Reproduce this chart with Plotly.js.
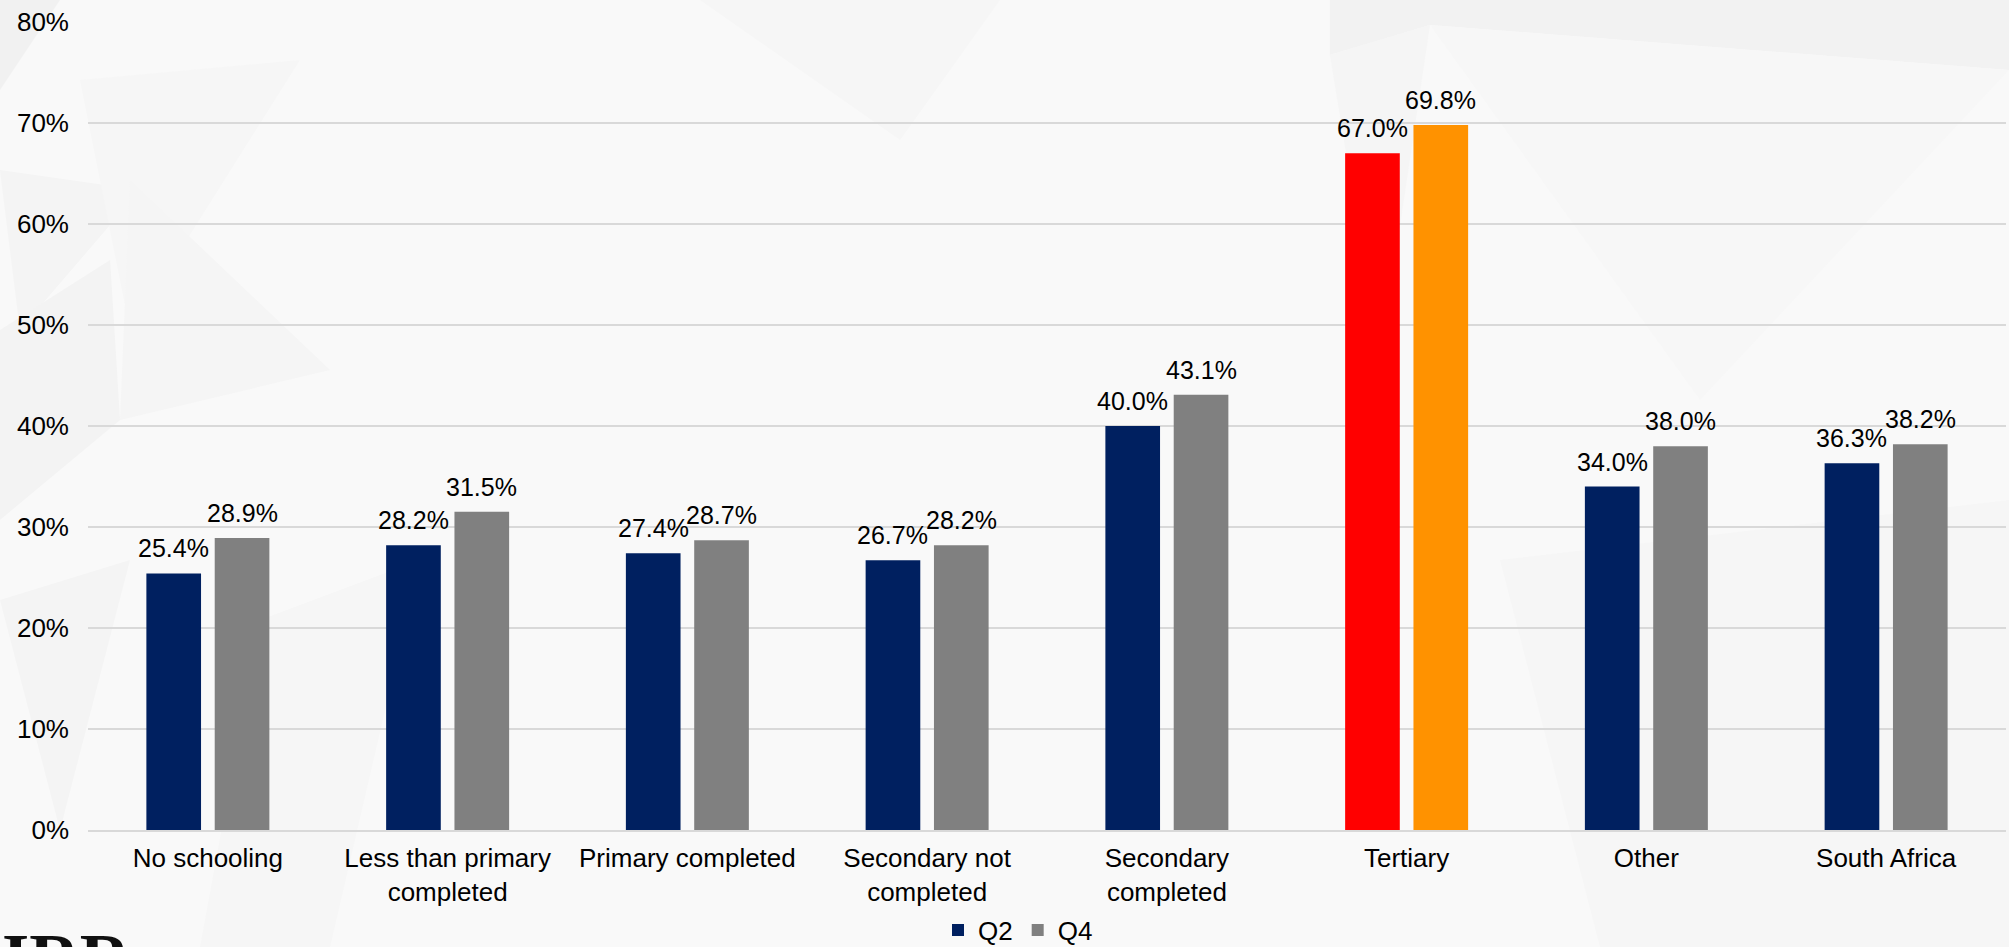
<!DOCTYPE html>
<html>
<head>
<meta charset="utf-8">
<script src="https://cdn.plot.ly/plotly-3.0.1.min.js"></script>
<style>
  html, body { margin: 0; padding: 0; background: #f9f9f9; }
  #chart { width: 2009px; height: 947px; }
</style>
</head>
<body>
<div id="chart"></div>
<script>
// Education level categories (x axis)
const categories = [
  'No schooling',
  'Less than primary<br>completed',
  'Primary completed',
  'Secondary not<br>completed',
  'Secondary<br>completed',
  'Tertiary',
  'Other',
  'South Africa'
];

// Share (%) per category, by quarter
const q2Values = [25.4, 28.2, 27.4, 26.7, 40.0, 67.0, 34.0, 36.3];
const q4Values = [28.9, 31.5, 28.7, 28.2, 43.1, 69.8, 38.0, 38.2];

const seriesNames = ['Q2', 'Q4'];
const yTicks = [0, 10, 20, 30, 40, 50, 60, 70, 80];

// Colours: Tertiary is highlighted
const q2Colors = categories.map(c => c === 'Tertiary' ? '#ff0000' : '#002060');
const q4Colors = categories.map(c => c === 'Tertiary' ? '#ff9200' : '#808080');

const W = 2009, H = 947;
const M = { l: 88, r: 3, t: 22, b: 117 };
const plotW = W - M.l - M.r, plotH = H - M.t - M.b;
const BARGAP = 0.43;
const offset = (1 - BARGAP) / 4;   // bar centre offset from category centre, in category units

const FONT = '"Liberation Sans", Arial, Helvetica, sans-serif';

const traces = [
  {
    type: 'bar', name: seriesNames[0], x: categories, y: q2Values,
    marker: { color: q2Colors }, hoverinfo: 'skip'
  },
  {
    type: 'bar', name: seriesNames[1], x: categories, y: q4Values,
    marker: { color: q4Colors }, hoverinfo: 'skip'
  }
];

// Value labels above each bar
const labels = [];
[q2Values, q4Values].forEach((vals, s) => {
  vals.forEach((v, i) => {
    labels.push({
      x: i + (s === 0 ? -offset : offset), y: v, xref: 'x', yref: 'y',
      text: v.toFixed(1) + '%', showarrow: false,
      xanchor: 'center', yanchor: 'bottom', yshift: 9,
      font: { family: FONT, size: 25, color: '#000000' }
    });
  });
});

// Logo lettering at the bottom-left corner
labels.push({
  x: -M.l / plotW, y: (830 - 918) / plotH, xref: 'paper', yref: 'paper',
  xanchor: 'left', yanchor: 'top', showarrow: false, text: '<b>IRR</b>',
  font: { family: '"Liberation Serif", "DejaVu Serif", serif', size: 70, color: '#111111' }
});

// Faint low-poly facets of the background
const px = (x, y) => [(x - M.l) / plotW, (M.t + plotH - y) / plotH];
function facet(pts, color) {
  const d = pts.map((p, k) => {
    const q = px(p[0], p[1]);
    return (k ? 'L' : 'M') + q[0].toFixed(4) + ',' + q[1].toFixed(4);
  }).join(' ') + ' Z';
  return { type: 'path', path: d, xref: 'paper', yref: 'paper', layer: 'below',
           fillcolor: color, line: { width: 0 } };
}
const facets = [
  facet([[0, 0], [60, 0], [0, 90]], '#f1f1f1'),
  facet([[0, 170], [140, 190], [20, 330]], '#f4f4f4'),
  facet([[80, 80], [300, 60], [130, 330]], '#f6f6f6'),
  facet([[130, 180], [330, 370], [120, 420]], '#f5f5f5'),
  facet([[0, 330], [110, 260], [120, 420], [0, 520]], '#f3f3f3'),
  facet([[0, 600], [130, 560], [60, 830]], '#f4f4f4'),
  facet([[1330, 0], [2009, 0], [2009, 70], [1430, 25], [1330, 55]], '#f2f2f2'),
  facet([[1330, 55], [1430, 25], [1380, 360]], '#f5f5f5'),
  facet([[1430, 25], [2009, 70], [1700, 400]], '#f7f7f7'),
  facet([[1500, 560], [2009, 500], [2009, 947], [1600, 947]], '#f6f6f6'),
  facet([[700, 0], [1000, 0], [900, 140]], '#f6f6f6'),
  facet([[260, 620], [420, 560], [330, 947], [200, 947]], '#f6f6f6')
];

const layout = {
  width: W, height: H,
  margin: M,
  paper_bgcolor: '#f9f9f9',
  plot_bgcolor: 'rgba(0,0,0,0)',
  font: { family: FONT, size: 26, color: '#000000' },
  barmode: 'group',
  bargap: BARGAP,
  bargroupgap: 0.2,
  showlegend: true,
  legend: {
    orientation: 'h',
    xref: 'container', yref: 'container',
    x: 1018 / W, xanchor: 'center',
    y: 17 / H, yanchor: 'middle',
    font: { family: FONT, size: 26, color: '#000000' },
    bgcolor: 'rgba(0,0,0,0)',
    traceorder: 'normal'
  },
  xaxis: {
    type: 'category',
    showgrid: false,
    showline: true, linecolor: '#d9d9d9', linewidth: 2,
    ticks: '', zeroline: false,
    tickfont: { family: FONT, size: 26, color: '#000000' },
    ticklabelstandoff: 4
  },
  yaxis: {
    range: [0, 80],
    tickvals: yTicks,
    ticktext: yTicks.map(v => v + '%'),
    showgrid: true, gridcolor: '#d9d9d9', gridwidth: 2,
    zeroline: false, showline: false, ticks: '',
    tickfont: { family: FONT, size: 26, color: '#000000' },
    ticklabelstandoff: 18
  },
  annotations: labels,
  shapes: facets
};

Plotly.newPlot('chart', traces, layout, { staticPlot: true, displayModeBar: false });
</script>
</body>
</html>
